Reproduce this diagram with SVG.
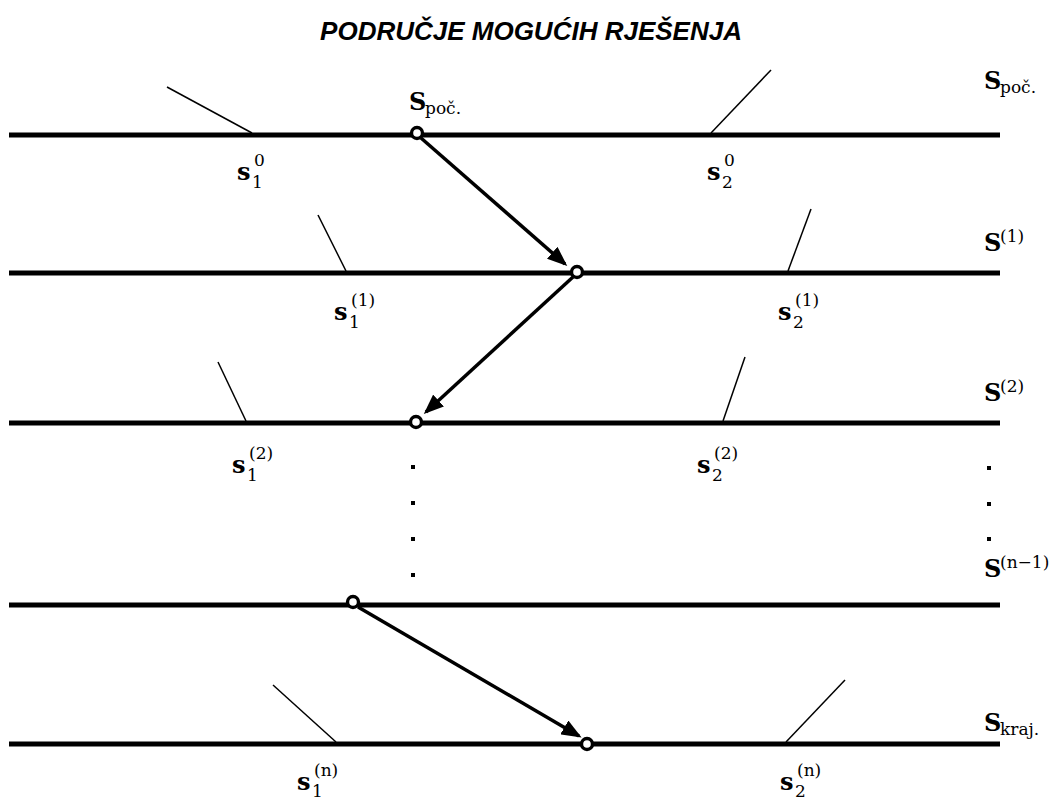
<svg xmlns="http://www.w3.org/2000/svg" width="1062" height="800" viewBox="0 0 1062 800">
<style>
.title{font-family:"Liberation Sans",Arial,sans-serif;font-weight:bold;font-style:italic;font-size:26px;fill:#000}
.rail{stroke:#000;stroke-width:5;fill:none}
.tick{stroke:#000;stroke-width:1.5;fill:none}
.arr{stroke:#000;stroke-width:3.5;fill:none}
.pt{stroke:#000;stroke-width:3.4;fill:#fff}
.m{font-family:"DejaVu Serif","Liberation Serif",serif;font-weight:bold;font-size:24px;fill:#000}
.i{font-family:"DejaVu Serif","Liberation Serif",serif;font-size:17px;fill:#000}
.dot{fill:#000}
</style>
<defs>
<marker id="ah" viewBox="0 0 20 16" markerWidth="20" markerHeight="16" refX="17" refY="8" orient="auto" markerUnits="userSpaceOnUse">
<path d="M0,0 L20,8 L0,16 z" fill="#000"/>
</marker>
</defs>
<rect width="1062" height="800" fill="#fff"/>
<text class="title" x="531" y="40" text-anchor="middle">PODRUČJE MOGUĆIH RJEŠENJA</text>

<g id="rails">
<line class="rail" x1="9" y1="135" x2="1000" y2="135"/>
<line class="rail" x1="9" y1="273" x2="1000" y2="273"/>
<line class="rail" x1="9" y1="423" x2="1000" y2="423"/>
<line class="rail" x1="9" y1="605" x2="1000" y2="605"/>
<line class="rail" x1="9" y1="744" x2="1000" y2="744"/>
</g>

<g id="ticks">
<line class="tick" x1="167" y1="87" x2="252" y2="133"/>
<line class="tick" x1="771" y1="70" x2="711" y2="133"/>
<line class="tick" x1="318" y1="215" x2="346" y2="271"/>
<line class="tick" x1="811" y1="209" x2="788" y2="271"/>
<line class="tick" x1="218" y1="362" x2="246" y2="421"/>
<line class="tick" x1="745" y1="357" x2="723" y2="421"/>
<line class="tick" x1="273" y1="685" x2="336" y2="742"/>
<line class="tick" x1="845" y1="680" x2="786" y2="742"/>
</g>

<g id="connectors">
<line class="arr" x1="421" y1="138" x2="565" y2="264" marker-end="url(#ah)"/>
<line class="arr" x1="573" y1="277" x2="426" y2="412" marker-end="url(#ah)"/>
<line class="arr" x1="358" y1="607" x2="579" y2="736" marker-end="url(#ah)"/>
</g>

<g id="points">
<circle class="pt" cx="417" cy="133" r="5.5"/>
<circle class="pt" cx="577" cy="272" r="5.5"/>
<circle class="pt" cx="416" cy="422" r="5.5"/>
<circle class="pt" cx="353" cy="602" r="5.5"/>
<circle class="pt" cx="587" cy="744" r="5.5"/>
</g>

<g id="label-Spoc-1">
<text class="m" x="409" y="110">S</text><text class="i" x="425" y="114">poč.</text>
</g>
<g id="label-Spoc-2">
<text class="m" x="984" y="89">S</text><text class="i" x="1000" y="93">poč.</text>
</g>
<g id="label-s10">
<text class="m" x="237" y="180">s</text><text class="i" x="252" y="188">1</text><text class="i" x="254" y="166">0</text>
</g>
<g id="label-s20">
<text class="m" x="707" y="180">s</text><text class="i" x="722" y="188">2</text><text class="i" x="724" y="166">0</text>
</g>
<g id="label-S1">
<text class="m" x="984" y="251">S</text><text class="i" x="1000" y="242">(1)</text>
</g>
<g id="label-s11">
<text class="m" x="334" y="320">s</text><text class="i" x="349" y="328">1</text><text class="i" x="351" y="306">(1)</text>
</g>
<g id="label-s21">
<text class="m" x="778" y="320">s</text><text class="i" x="793" y="328">2</text><text class="i" x="795" y="306">(1)</text>
</g>
<g id="label-S2">
<text class="m" x="984" y="401">S</text><text class="i" x="1000" y="392">(2)</text>
</g>
<g id="label-s12">
<text class="m" x="232" y="473">s</text><text class="i" x="247" y="481">1</text><text class="i" x="249" y="459">(2)</text>
</g>
<g id="label-s22">
<text class="m" x="697" y="473">s</text><text class="i" x="712" y="481">2</text><text class="i" x="714" y="459">(2)</text>
</g>
<g id="label-Sn1">
<text class="m" x="984" y="577">S</text><text class="i" x="1000" y="568">(n−1)</text>
</g>
<g id="label-Skraj">
<text class="m" x="984" y="731">S</text><text class="i" x="1000" y="735">kraj.</text>
</g>
<g id="label-s1n">
<text class="m" x="297" y="790">s</text><text class="i" x="312" y="797">1</text><text class="i" x="314" y="776">(n)</text>
</g>
<g id="label-s2n">
<text class="m" x="780" y="790">s</text><text class="i" x="795" y="797">2</text><text class="i" x="797" y="776">(n)</text>
</g>

<g id="dots">
<rect class="dot" x="411" y="465" width="4" height="4"/>
<rect class="dot" x="411" y="501" width="4" height="4"/>
<rect class="dot" x="411" y="537" width="4" height="4"/>
<rect class="dot" x="411" y="573" width="4" height="4"/>
<rect class="dot" x="987" y="466" width="4" height="4"/>
<rect class="dot" x="987" y="502" width="4" height="4"/>
<rect class="dot" x="987" y="537" width="4" height="4"/>
</g>
</svg>
